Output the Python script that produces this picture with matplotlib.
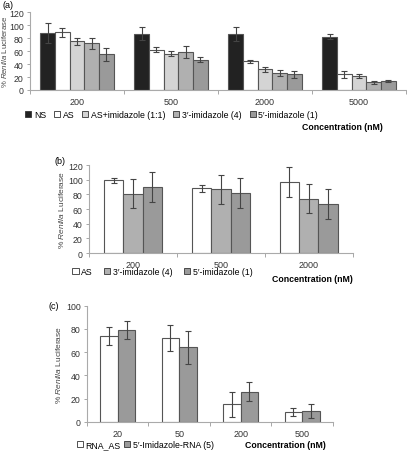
import numpy as np
import matplotlib
matplotlib.use("Agg")
import matplotlib.pyplot as plt
from matplotlib.patches import Patch

plt.rcParams['font.family'] = ['Liberation Sans', 'DejaVu Sans']
plt.rcParams['mathtext.fontset'] = 'custom'
plt.rcParams['mathtext.rm'] = 'Liberation Sans'
plt.rcParams['mathtext.it'] = 'Liberation Sans:italic'

# panel (a)
conc_a = ["200", "500", "2000", "5000"]
series_a = ["NS", "AS", "AS+imidazole (1:1)", "3\u2032-imidazole (4)", "5\u2032-imidazole (1)"]
vals_a = [[88, 87, 86, 82],
          [89, 62, 44, 24],
          [75, 56, 32, 22],
          [72, 59, 26, 12],
          [55, 47, 24, 14]]
errs_a = [[16, 10, 11, 4],
          [7, 4, 3, 5],
          [6, 4, 4, 3],
          [8, 9, 5, 2],
          [10, 4, 6, 1]]
colors_a = ["#222222", "#ffffff", "#d4d4d4", "#b0b0b0", "#9a9a9a"]

# panel (b)
conc_b = ["200", "500", "2000"]
series_b = ["AS", "3\u2032-imidazole (4)", "5\u2032-imidazole (1)"]
vals_b = [[99, 88, 97],
          [81, 87, 74],
          [90, 82, 67]]
errs_b = [[3, 5, 20],
          [20, 20, 20],
          [20, 20, 20]]
colors_b = ["#ffffff", "#b0b0b0", "#9a9a9a"]

# panel (c)
conc_c = ["20", "50", "200", "500"]
series_c = ["RNA_AS", "5\u2032-Imidazole-RNA (5)"]
vals_c = [[74, 72, 15, 8],
          [79, 64, 26, 9]]
errs_c = [[8, 11, 11, 3.5],
          [8, 14.5, 8, 6]]
colors_c = ["#ffffff", "#9a9a9a"]

fig = plt.figure(figsize=(4.07, 4.52), dpi=100)


def panel(rect, cats, names, vals, errs, colors, ymax, ystep, frac, label_x, label_fs=6):
    ax = fig.add_axes(rect)
    n = len(names)
    w = frac / n
    x = np.arange(len(cats))
    for i in range(n):
        pos = x - frac / 2 + w * (i + 0.5)
        ax.bar(pos, vals[i], w, color=colors[i], edgecolor="#555555", linewidth=0.8,
               yerr=errs[i], error_kw=dict(ecolor="#444444", elinewidth=0.8, capsize=2, capthick=0.8))
    ax.set_xlim(-0.5, len(cats) - 0.5)
    ax.set_ylim(0, ymax)
    ax.set_yticks(np.arange(0, ymax + 1, ystep))
    ax.set_xticks(x)
    ax.set_xticklabels(cats)
    ax.set_xticks(np.arange(len(cats) + 1) - 0.5, minor=True)
    ax.tick_params(axis='x', which='major', length=0, labelsize=6.5, pad=5, colors="#333333")
    ax.tick_params(axis='x', which='minor', length=3, width=0.6, color="#999999")
    ax.tick_params(axis='y', labelsize=6.3, length=2.5, width=0.6, color="#999999", labelcolor="#333333", pad=2)
    for s in ["top", "right"]:
        ax.spines[s].set_visible(False)
    for s in ["left", "bottom"]:
        ax.spines[s].set_color("#aaaaaa")
        ax.spines[s].set_linewidth(0.8)
    fig.text(label_x, rect[1] + rect[3] / 2, r"% $\mathit{Renilla}$ Luciferase", fontsize=label_fs,
             color="#444444", rotation=90, ha="center", va="center")
    return ax


def legend(ax, names, colors, x, y, ncol, spacing):
    handles = [Patch(facecolor=c, edgecolor="#333333", linewidth=0.6, label=nm)
               for c, nm in zip(colors, names)]
    ax.legend(handles=handles, loc="upper left", bbox_to_anchor=(x, y), bbox_transform=fig.transFigure,
              ncol=ncol, frameon=False, fontsize=6.3, handlelength=0.7, handleheight=0.7,
              handletextpad=0.3, columnspacing=spacing, borderpad=0, borderaxespad=0)


ax_a = panel([0.0737, 0.7987, 0.924, 0.172], conc_a, series_a, vals_a, errs_a, colors_a, 120, 20, 0.78,
             4.5 / 407, label_fs=5.6)
legend(ax_a, series_a, colors_a, 0.062, 0.755, 5, 0.9)
fig.text(0.005, 0.997, "(a)", fontsize=6.5, va="top")
fig.text(0.94, 0.718, "Concentration (nM)", fontsize=6.3, fontweight="bold", ha="right", va="center")

ax_b = panel([0.2187, 0.438, 0.648, 0.1947], conc_b, series_b, vals_b, errs_b, colors_b, 120, 20, 0.66,
             62 / 407)
legend(ax_b, series_b, colors_b, 0.178, 0.406, 3, 1.3)
fig.text(0.135, 0.643, "(b)", fontsize=6.5, va="center")
fig.text(0.867, 0.381, "Concentration (nM)", fontsize=6.3, fontweight="bold", ha="right", va="center")

ax_c = panel([0.2138, 0.0648, 0.604, 0.2567], conc_c, series_c, vals_c, errs_c, colors_c, 100, 20, 0.57,
             58 / 407)
legend(ax_c, series_c, colors_c, 0.188, 0.024, 2, 0.4)
fig.text(0.12, 0.323, "(c)", fontsize=6.5, va="center")
fig.text(0.8, 0.014, "Concentration (nM)", fontsize=6.3, fontweight="bold", ha="right", va="center")

fig.savefig("out.png", dpi=100)
